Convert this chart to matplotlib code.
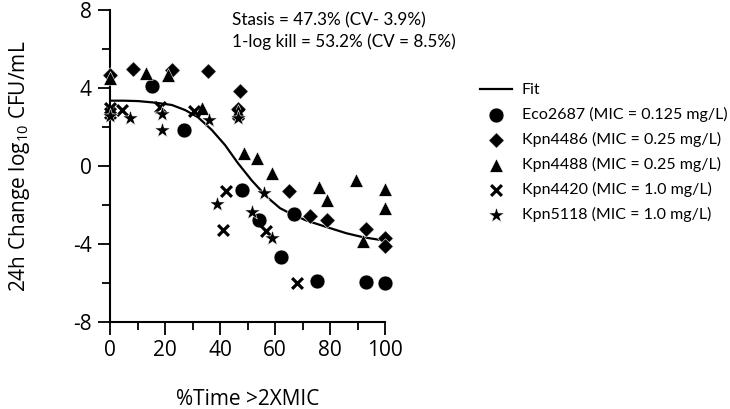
import matplotlib
matplotlib.use("Agg")
import matplotlib.pyplot as plt
from matplotlib.ticker import MultipleLocator

plt.rcParams['font.family'] = ['Open Sans', 'DejaVu Sans']
plt.rcParams['mathtext.fontset'] = 'custom'
plt.rcParams['mathtext.rm'] = 'Open Sans'
plt.rcParams['mathtext.default'] = 'regular'
plt.rcParams['axes.unicode_minus'] = False

# ---- data ----
eco_x = [15.4, 27, 48, 54, 62, 67, 75.3, 93, 100]
eco_y = [4.1, 1.85, -1.23, -2.77, -4.67, -2.46, -5.9, -5.95, -6.0]

k4486_x = [0, 8.5, 22.5, 35.5, 47.3, 46.5, 65, 72.7, 79, 93, 100, 100]
k4486_y = [4.65, 5.0, 4.9, 4.85, 3.85, 2.9, -1.28, -2.55, -2.77, -3.23, -3.7, -4.1]

k4488_x = [0, 13, 21, 33.5, 46.5, 48.7, 53.4, 59, 76, 79, 89.5, 92, 100, 100]
k4488_y = [4.5, 4.75, 4.65, 3.0, 2.8, 0.65, 0.4, -0.37, -1.07, -1.75, -0.72, -3.85, -1.18, -2.15]

k4420_x = [0, 0, 4.3, 18.2, 30.5, 46.5, 42, 41, 56.7, 68]
k4420_y = [3.0, 2.7, 2.87, 3.05, 2.8, 2.65, -1.3, -3.28, -3.33, -6.0]

k5118_x = [0, 7.4, 19, 19, 36, 46.5, 39, 56, 51.6, 59]
k5118_y = [2.55, 2.45, 2.65, 1.85, 2.35, 2.45, -1.95, -1.4, -2.37, -3.7]

fit_x = [0, 5, 10.2, 16.4, 22.5, 27.3, 32, 37, 41.8, 46.5, 51.6, 57, 61.8, 66.5, 71.5, 79, 86, 92, 100]
fit_y = [3.35, 3.35, 3.33, 3.25, 3.13, 2.87, 2.5, 1.85, 1.08, 0.15, -0.75, -1.58, -2.16, -2.5, -2.8, -3.14, -3.45, -3.65, -3.83]

series_labels = ["Eco2687 (MIC = 0.125 mg/L)", "Kpn4486 (MIC = 0.25 mg/L)",
                 "Kpn4488 (MIC = 0.25 mg/L)", "Kpn4420 (MIC = 1.0 mg/L)",
                 "Kpn5118 (MIC = 1.0 mg/L)"]
x_ticks = [0, 20, 40, 60, 80, 100]
y_ticks = [-8, -4, 0, 4, 8]
annot = ["Stasis = 47.3% (CV- 3.9%)", "1-log kill = 53.2% (CV = 8.5%)"]

fig = plt.figure(figsize=(7.30, 4.09), dpi=100)
ax = fig.add_axes([0.1507, 0.2127, 0.3767, 0.7628])

fit_line, = ax.plot(fit_x, fit_y, color='black', lw=1.6, zorder=2, label='Fit')

common = dict(color='black', edgecolors='white', linewidths=0.4, clip_on=False, zorder=3)
h1 = ax.scatter(eco_x, eco_y, marker='o', s=115, label=series_labels[0], **common)
h2 = ax.scatter(k4486_x, k4486_y, marker='D', s=62, label=series_labels[1], **common)
h3 = ax.scatter(k4488_x, k4488_y, marker='^', s=95, label=series_labels[2], **common)
h4 = ax.scatter(k4420_x, k4420_y, marker='x', s=60, color='black', linewidths=2.3,
                clip_on=False, zorder=3, label=series_labels[3])
h5 = ax.scatter(k5118_x, k5118_y, marker='*', s=140, label=series_labels[4], **common)

ax.set_xlim(0, 100)
ax.set_ylim(-8, 8)
ax.set_xticks(x_ticks)
ax.set_yticks(y_ticks)
ax.xaxis.set_minor_locator(MultipleLocator(10))
ax.yaxis.set_minor_locator(MultipleLocator(2))
for s in ['top', 'right']:
    ax.spines[s].set_visible(False)
for s in ['left', 'bottom']:
    ax.spines[s].set_linewidth(1.5)
ax.tick_params(which='major', length=9, width=1.3, labelsize=15, pad=4)
ax.tick_params(which='minor', length=5.5, width=1.3)

ax.set_xlabel("%Time >2XMIC", fontsize=15, labelpad=20)
ax.set_ylabel("24h Change log$_{10}$ CFU/mL", fontsize=15, labelpad=30)

fig.text(232/730, 1 - 20/409, annot[0], fontsize=12.3, family=['Lato', 'DejaVu Sans'], va='center', ha='left')
fig.text(232/730, 1 - 42/409, annot[1], fontsize=12.3, family=['Lato', 'DejaVu Sans'], va='center', ha='left')

leg = fig.legend(handles=[fit_line, h1, h2, h3, h4, h5],
                 loc='upper left', bbox_to_anchor=(480/730, 1 - 83/409),
                 frameon=False, handlelength=2.0, handletextpad=0.6,
                 labelspacing=0.62, prop={'family': ['Lato', 'DejaVu Sans'], 'size': 11.5},
                 borderaxespad=0, borderpad=0)

fig.savefig("out.png", dpi=100)
